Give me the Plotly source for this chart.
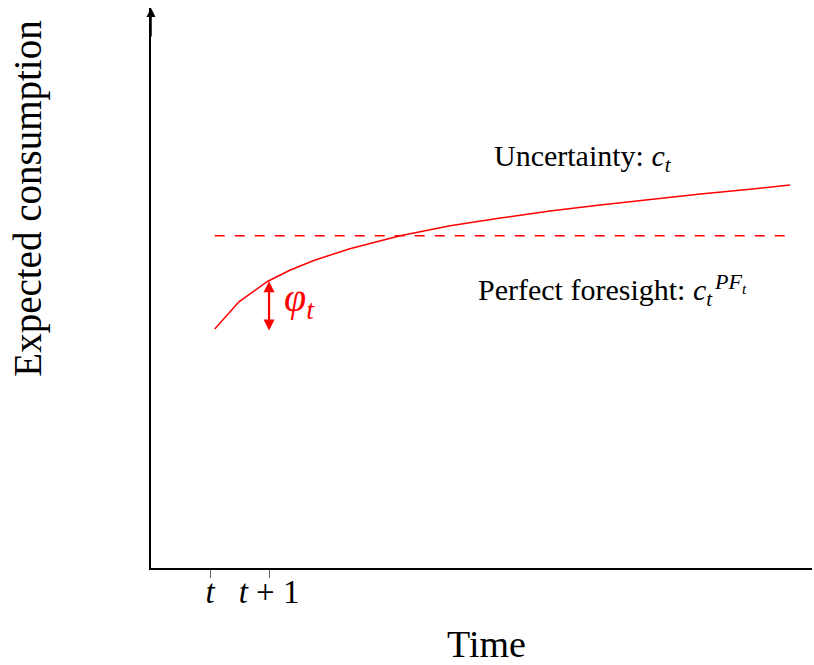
import plotly.graph_objects as go

# Data (in axis units; t = 1, t+1 = 2)
curve_x = [1.08, 1.49, 1.98, 2.36, 2.78, 3.37, 4.22, 5.07, 5.92, 6.76, 7.61, 8.46, 9.31, 10.15, 10.83]
curve_y = [4.05, 4.51, 4.86, 5.05, 5.22, 5.41, 5.63, 5.80, 5.93, 6.05, 6.15, 6.25, 6.34, 6.42, 6.49]
pf_x = [1.08, 10.83]
pf_y = [5.63, 5.63]
tick_vals = [1, 2]
tick_text = ["<i>t</i>", "<i>t</i> + 1"]
phi_x = 2.0
phi_top = 4.86
phi_bottom = 4.0

RED = "#ff0000"
SERIF = "Liberation Serif, Times New Roman, serif"

fig = go.Figure()
fig.add_trace(go.Scatter(x=curve_x, y=curve_y, mode="lines",
                         line=dict(color=RED, width=1.5), hoverinfo="skip"))
fig.add_trace(go.Scatter(x=pf_x, y=pf_y, mode="lines",
                         line=dict(color=RED, width=1.5, dash="10px,10px"), hoverinfo="skip"))

annotations = [
    # y-axis arrow head
    dict(x=0, y=9.49, xref="x", yref="y", ax=0, ay=30, axref="pixel", ayref="pixel",
         showarrow=True, arrowhead=2, arrowsize=1.2, arrowwidth=1.5, arrowcolor="black", text=""),
    # phi double arrow
    dict(x=phi_x, y=phi_top, ax=phi_x, ay=phi_bottom, xref="x", yref="y", axref="x", ayref="y",
         showarrow=True, arrowhead=2, startarrowhead=2, arrowside="end+start",
         arrowsize=1.0, startarrowsize=1.0, arrowwidth=2.2, arrowcolor=RED, text=""),
    dict(x=2.22, y=4.54, xref="x", yref="y", showarrow=False, xanchor="left",
         text="<i>φ</i><sub><i>t</i></sub>", font=dict(family=SERIF, size=40, color=RED)),
    dict(x=7.32, y=6.95, xref="x", yref="y", showarrow=False,
         text="Uncertainty: <i>c</i><sub><i>t</i></sub>", font=dict(family=SERIF, size=30, color="black")),
    dict(x=5.51, y=4.68, xref="x", yref="y", showarrow=False, xanchor="left",
         text="Perfect foresight: <i>c</i><sub><i>t</i></sub>", font=dict(family=SERIF, size=30, color="black")),
    dict(x=9.51, y=4.83, xref="x", yref="y", showarrow=False, xanchor="left",
         text="<i>PF</i><sub><i>t</i></sub>", font=dict(family=SERIF, size=22, color="black")),
    dict(x=0.508, y=-0.177, xref="paper", yref="paper", showarrow=False,
         text="Time", font=dict(family=SERIF, size=38, color="black")),
    dict(x=-0.222, y=0.66, xref="paper", yref="paper", showarrow=False, textangle=-90,
         text="Expected consumption", font=dict(family=SERIF, size=39, color="black")),
]

fig.update_layout(
    width=814, height=665,
    margin=dict(l=151, r=2, t=8, b=97),
    paper_bgcolor="white", plot_bgcolor="white",
    showlegend=False,
    annotations=annotations,
    xaxis=dict(range=[0, 11.2], showgrid=False, zeroline=False,
               showline=True, linecolor="black", linewidth=1.5,
               tickmode="array", tickvals=tick_vals, ticktext=tick_text,
               ticks="outside", ticklen=8, tickcolor="#666666", tickwidth=1,
               ticklabelstandoff=-14,
               tickfont=dict(family=SERIF, size=33, color="black"), fixedrange=True),
    yaxis=dict(range=[0, 9.49], showgrid=False, zeroline=False,
               showline=True, linecolor="black", linewidth=1.5,
               showticklabels=False, ticks="", fixedrange=True),
)

fig.write_html("out.html")
